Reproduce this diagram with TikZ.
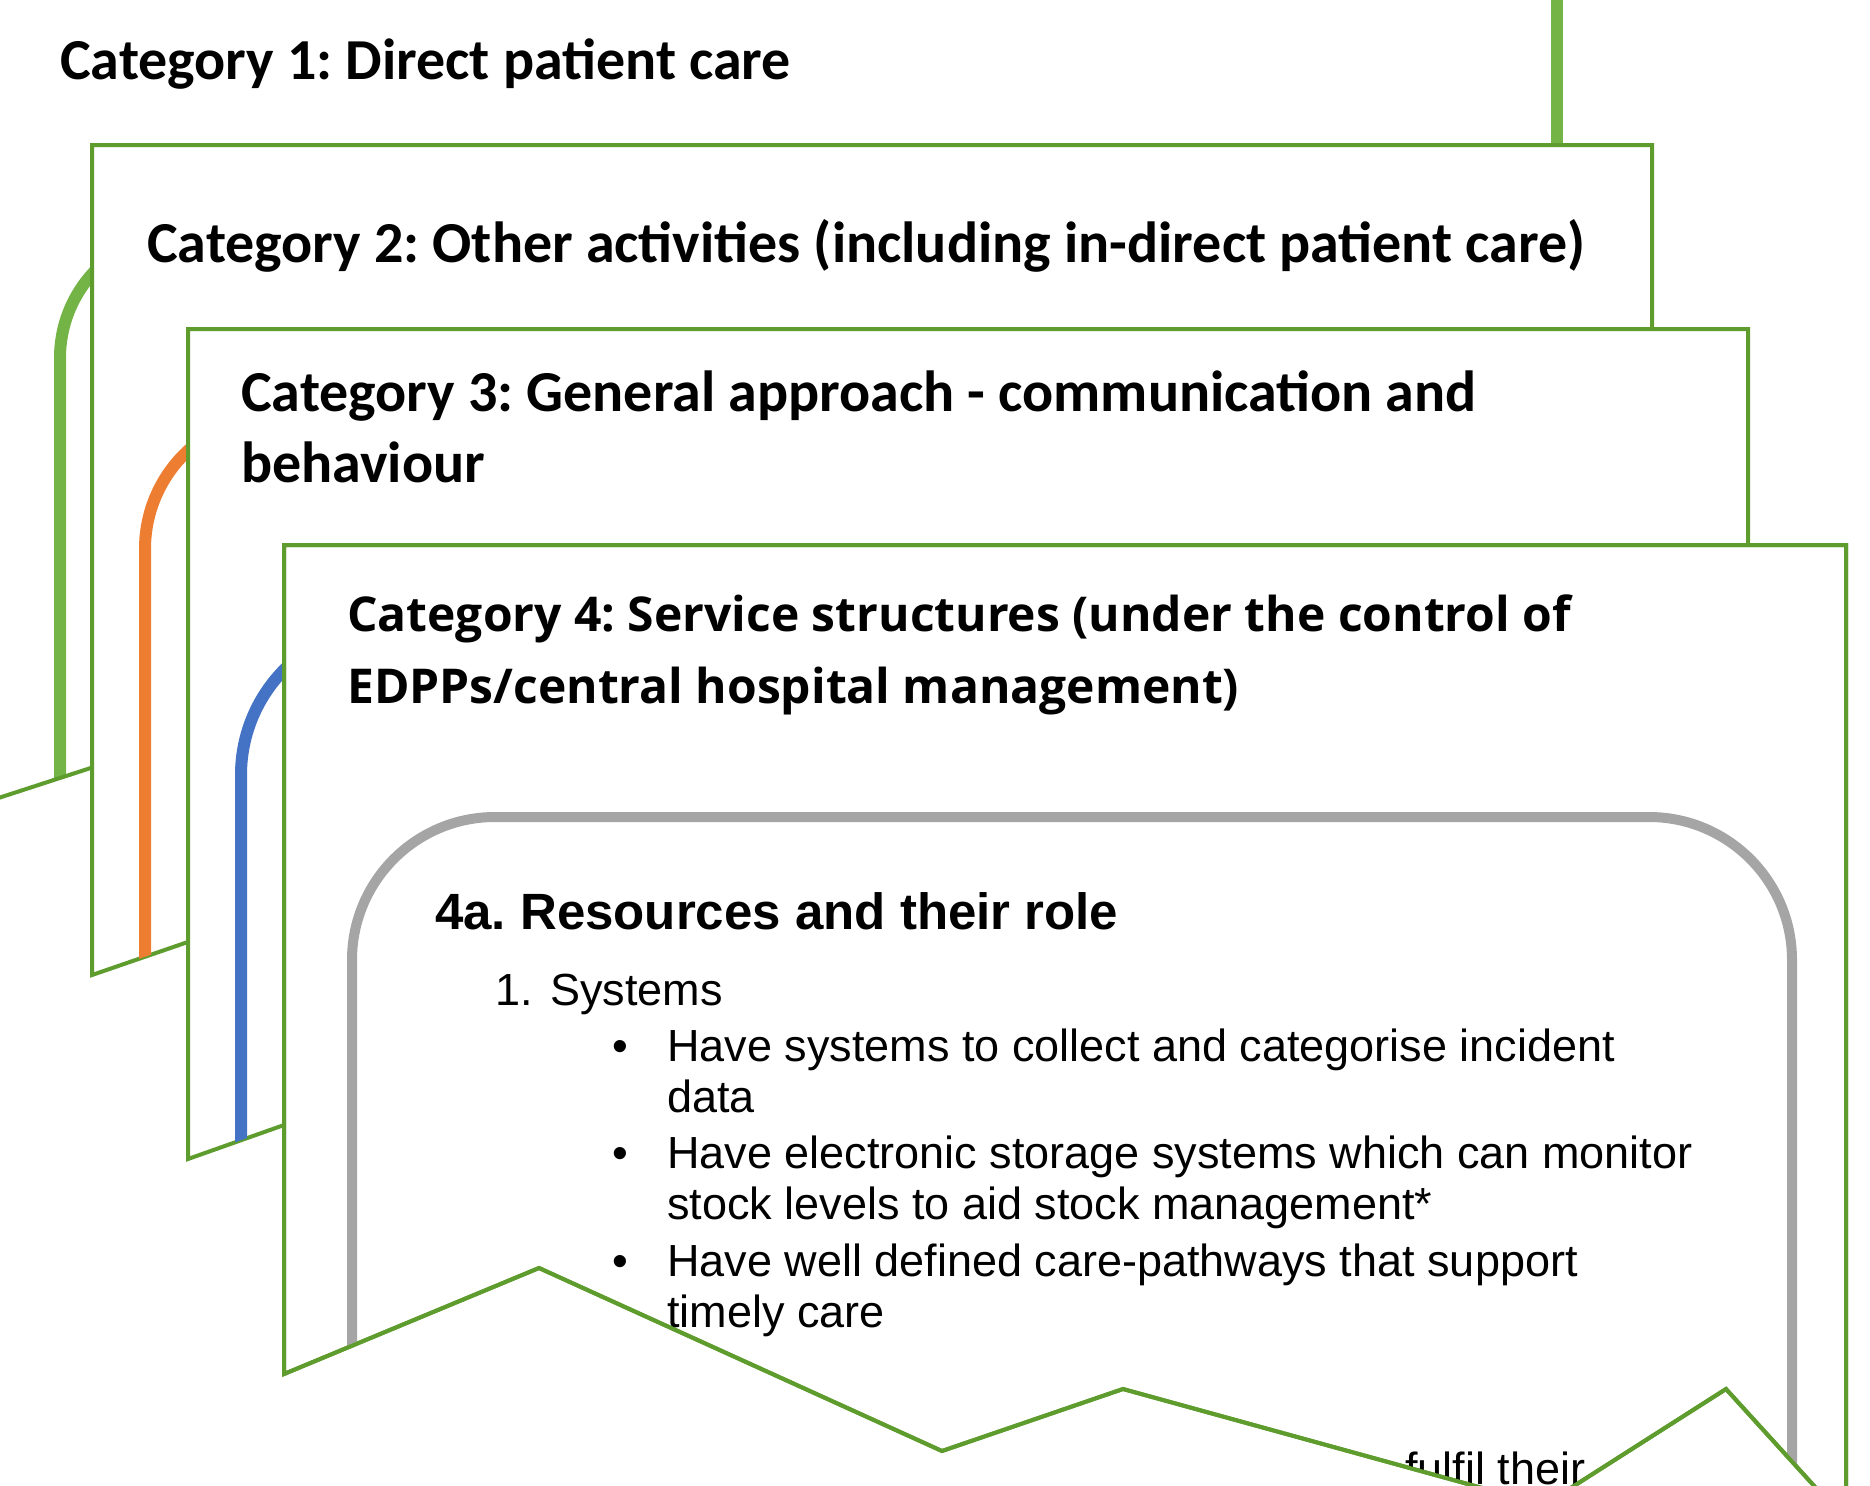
\documentclass[tikz,border=0pt]{standalone}
\usepackage{fontspec}
\setmainfont{Carlito}
\newfontfamily\opensans{Open Sans}
\newfontfamily\arialsans{Liberation Sans}
\definecolor{cardgreen}{HTML}{5E9C2E}
\definecolor{bandgreen}{HTML}{74B446}
\definecolor{bandorange}{HTML}{ED7D31}
\definecolor{bandblue}{HTML}{4472C4}
\definecolor{bandgrey}{HTML}{A5A5A5}
\frenchspacing

\begin{document}
\begin{tikzpicture}[x=1pt, y=-1pt, every node/.style={inner sep=0pt, anchor=base west}]
	\tikzset{card/.style={draw=cardgreen, line width=4pt, fill=white},
		band/.style={line width=12pt},
		cattext/.style={font=\bfseries\fontsize{58}{71}\selectfont},
		cattextb/.style={font=\opensans\bfseries\fontsize{48}{72}\selectfont},
		itemtext/.style={font=\arialsans\fontsize{45}{51}\selectfont}}
	\useasboundingbox (0,0) rectangle (1870,1485);
	\clip (0,0) rectangle (1870,1485);
	\def\cardone{(-20,804) -- (-20,-20) -- (1600,-20) -- (1600,277) -- cycle}
	\def\cardtwo{(92,975) -- (92,145) -- (1652,145) -- (1652,438) -- cycle}
	\def\cardthree{(188,1159) -- (188,329) -- (1748,329) -- (1748,607) -- cycle}
	\def\cardfour{(284,545) -- (1846,545) -- (1846,1521) -- (1726,1389) -- (1544,1505) -- (1123,1389) -- (942,1451) -- (539,1268) -- (284,1374) -- cycle}
	% category 1
	\begin{scope}
		\clip \cardone;
		\draw[band, bandgreen] (1557,-10) -- (1557,150);
		\draw[band, bandgreen] (60,900) -- (60,358) arc[start angle=180, end angle=270, radius=126];
	\end{scope}
	\draw[cardgreen, line width=4pt] (-20,804) -- (1600,277);
	\node[cattext] (cat1) at (60,80) {Category 1: Direct patient care};
	% category 2
	\draw[card] \cardtwo;
	\node[cattext] (cat2) at (147,262) {Category 2: Other activities (including in-direct patient care)};
	\begin{scope}
		\clip \cardtwo;
		\draw[band, bandorange] (145,1100) -- (145,549) arc[start angle=180, end angle=270, radius=134];
	\end{scope}
	% category 3
	\draw[card] \cardthree;
	\node[cattext] (cat3) at (241,411) {Category 3: General approach - communication and};
	\node[cattext] (cat3b) at (241,482) {behaviour};
	\begin{scope}
		\clip \cardthree;
		\draw[band, bandblue] (241,1250) -- (241,775) arc[start angle=180, end angle=270, radius=150];
	\end{scope}
	% category 4
	\draw[card] \cardfour;
	\node[cattextb] (cat4) at (347,631) {Category 4: Service structures (under the control of};
	\node[cattextb] (cat4b) at (347,703) {EDPPs/central hospital management)};
	\begin{scope}
		\clip \cardfour;
		\draw[bandgrey, line width=10pt, rounded corners=143pt] (352,1600) -- (352,817) -- (1792,817) -- (1792,1600);
		\node[font=\arialsans\bfseries\fontsize{51}{60}\selectfont] (res) at (435,929) {4a. Resources and their role};
		\node[itemtext] (num1) at (495,1005) {1.};
		\node[itemtext] (sys) at (550,1005) {Systems};
		\node[itemtext] (dot1) at (612,1061) {•};
		\node[itemtext] (item1) at (667,1061) {Have systems to collect and categorise incident};
		\node[itemtext] (item1b) at (667,1112) {data};
		\node[itemtext] (dot2) at (612,1168) {•};
		\node[itemtext] (item2) at (667,1168) {Have electronic storage systems which can monitor};
		\node[itemtext] (item2b) at (667,1219) {stock levels to aid stock management*};
		\node[itemtext] (dot3) at (612,1276) {•};
		\node[itemtext] (item3) at (667,1276) {Have well defined care-pathways that support};
		\node[itemtext] (item3b) at (667,1327) {timely care};
		\node[itemtext] (item4) at (1355,1484) {to fulfil their};
	\end{scope}
	\draw[cardgreen, line width=4pt] \cardfour;
\end{tikzpicture}
\end{document}
